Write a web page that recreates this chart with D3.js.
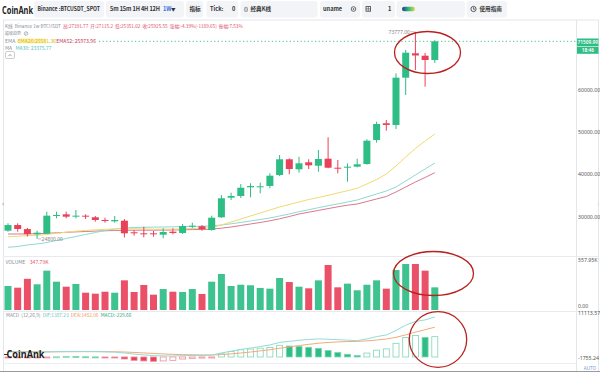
<!DOCTYPE html>
<html>
<head>
<meta charset="utf-8">
<script src="https://cdn.jsdelivr.net/npm/d3@7"></script>
<style>
body { margin: 0; background: #fff; }
svg { display: block; font-family: "Noto Sans", "Noto Sans CJK SC", sans-serif; }
text { white-space: pre; }
</style>
</head>
<body>
<svg width="600" height="374"></svg>
<script>
// weekly candles, Binance BTCUSDT
var weeks = ['2023-05-22', '2023-05-29', '2023-06-05', '2023-06-12', '2023-06-19', '2023-06-26', '2023-07-03', '2023-07-10', '2023-07-17', '2023-07-24',
	'2023-07-31', '2023-08-07', '2023-08-14', '2023-08-21', '2023-08-28', '2023-09-04', '2023-09-11', '2023-09-18', '2023-09-25', '2023-10-02',
	'2023-10-09', '2023-10-16', '2023-10-23', '2023-10-30', '2023-11-06', '2023-11-13', '2023-11-20', '2023-11-27', '2023-12-04', '2023-12-11',
	'2023-12-18', '2023-12-25', '2024-01-01', '2024-01-08', '2024-01-15', '2024-01-22', '2024-01-29', '2024-02-05', '2024-02-12', '2024-02-19',
	'2024-02-26', '2024-03-04', '2024-03-11', '2024-03-18', '2024-03-25'];

var open = [26740, 28080, 27115.2, 25890, 26030, 30210, 30610, 30150, 30290, 29910, 29270, 28960, 29100, 26360, 26120, 26120, 25790, 26500, 26200, 27780,
	27780, 26900, 29910, 34540, 34940, 37000, 37070, 37310, 39910, 43620, 41250, 42910, 42100, 43760, 41630, 41630, 41870, 42510, 48180, 52130,
	51730, 62910, 68680, 68110, 67090];
var high = [28490, 28490, 27391.77, 26740, 31230, 31230, 31230, 31630, 30610, 30210, 29810, 30210, 29500, 26900, 27680, 26670, 27310, 27310, 28320, 28630,
	28090, 30290, 35180, 35720, 37780, 37940, 38090, 40310, 44630, 43850, 44230, 43620, 45820, 48820, 43450, 42670, 43760, 48350, 52510, 52910,
	63950, 69460, 73777, 68750, 71770];
var low = [26500, 26500, 25351.02, 24800, 25960, 29670, 29670, 29670, 29500, 28870, 28630, 28630, 25180, 25560, 25180, 25320, 24950, 25890, 25960, 27310,
	26740, 26740, 29740, 34000, 34470, 34630, 35580, 36760, 39670, 40070, 40450, 41320, 40690, 41490, 40310, 38320, 41730, 42340, 47540, 50380,
	50780, 58820, 64730, 60780, 66380];
var close = [28080, 27140, 25925.55, 26270, 30290, 30450, 30050, 30290, 30050, 29270, 29030, 29270, 26120, 26120, 25890, 25890, 26430, 26200, 27850, 27920,
	27140, 29810, 34400, 34940, 36900, 37310, 37240, 39740, 43620, 41320, 42670, 42200, 43690, 41630, 41400, 41870, 42440, 48020, 51960, 51730,
	62910, 68820, 68160, 67090, 71509.99];

// volume in K
var volume = [268, 249, 347.79, 287, 439, 316, 260, 290, 193, 182, 204, 193, 331, 201, 279, 171, 234, 204, 201, 234,
	179, 316, 402, 268, 282, 276, 246, 238, 357, 312, 260, 242, 331, 502, 253, 294, 220, 282, 331, 238,
	446, 513, 513, 439, 253];

// moving averages
var ema26 = [25320, 25415, 25581.36, 25650, 25840, 26124, 26384, 26620, 26809, 26951, 27069, 27164, 27235, 27211, 27164, 27117, 27117, 27117, 27164, 27259,
	27306, 27495, 28086, 28795, 29504, 30214, 30923, 31632, 32341, 32932, 33523, 34114, 34587, 35107, 35651, 36195, 36762, 37778, 38842, 40142,
	42034, 44161, 46171, 47944, 49598];
var ema52 = [25958, 25960, 25973.96, 26029, 26124, 26242, 26360, 26455, 26549, 26644, 26715, 26786, 26833, 26857, 26857, 26857, 26880, 26904, 26951, 26999,
	27022, 27093, 27330, 27613, 27968, 28322, 28677, 29079, 29552, 30095, 30686, 31112, 31537, 31963, 32388, 32767, 33050, 33641, 34232, 34823,
	35887, 37069, 38251, 39315, 40450];
var ma30 = [22814, 23003, 23375.77, 23594, 23949, 24422, 24895, 25367, 25840, 26313, 26786, 27140, 27377, 27495, 27542, 27590, 27613, 27660, 27708, 27755,
	27802, 27850, 28086, 28370, 28677, 29032, 29386, 29741, 30214, 30686, 31230, 31703, 32176, 32649, 33050, 33523, 33996, 34705, 35414, 36124,
	37069, 38488, 39906, 41324, 42743];

// MACD (12,26,9)
var dif = [1440, 1410, 1387.23, 1344, 1391, 1479, 1524, 1539, 1517, 1500, 1427, 1352, 1108, 802, 579, 379, 291, 260, 369, 416,
	418, 505, 1118, 1606, 2106, 2481, 2912, 3343, 4049, 4330, 4649, 4862, 5012, 4937, 4818, 4662, 4537, 5025, 5663, 6119,
	7369, 8844, 9894, 10300, 11113.57];
var dea = [1510, 1500, 1482.06, 1454, 1441, 1449, 1464, 1479, 1487, 1490, 1477, 1452, 1383, 1267, 1129, 979, 841, 725, 654, 606,
	568, 555, 668, 856, 1106, 1381, 1687, 2018, 2424, 2805, 3174, 3512, 3812, 4037, 4193, 4287, 4337, 4475, 4713, 4994,
	5469, 6144, 6894, 7575, 8281];
var macdHist = [-140, -180, -229.66, -220, -100, 60, 120, 120, 60, 20, -100, -200, -550, -930, -1100, -1200, -1100, -930, -570, -380,
	-300, -100, 900, 1500, 2000, 2200, 2450, 2650, 3250, 3050, 2950, 2700, 2400, 1800, 1250, 750, 400, 1100, 1900, 2250,
	3800, 5400, 6000, 5450, 5650];

var priceTicks = [30000, 40000, 50000, 60000];
var volTicks = ['557.95K', '0.00'];
var macdTicks = ['11113.57', '-1755.24'];
var lastPrice = 71509.99, lastTime = '18:46';
var highMark = 73777, lowMark = 24800;

var svg = d3.select('svg'),
	width = +svg.attr('width'),
	height = +svg.attr('height');

var green = '#2ebd85', red = '#e8415a', grey = '#8a8f98', axisColor = '#555';

var candles = weeks.map(function(w, i) {
	return { week: w, o: open[i], h: high[i], l: low[i], c: close[i], v: volume[i], m: macdHist[i], i: i };
});

// scales
var x = d3.scalePoint().domain(weeks).range([8, 434.8]);
var bw = 7;
var y = d3.scaleLinear().domain([30000, 60000]).range([216.9, 90]);
var yVol = d3.scaleLinear().domain([0, 557.95]).range([310, 260]);
var yMacd = d3.scaleLinear().domain([-1755.24, 11113.57]).range([363.3, 317]);

// ---------- toolbar ----------
var tb = svg.append('g');
tb.append('text').attr('x', 2).attr('y', 13.5).attr('font-size', 10).attr('font-weight', 'bold')
	.attr('fill', '#222').attr('textLength', 31).attr('lengthAdjust', 'spacingAndGlyphs').text('CoinAnk');

[[34, 70], [106, 78], [186, 17], [206.5, 31.5], [240.5, 77], [320, 40], [362, 33], [396.5, 68.5], [466.5, 40.5]].forEach(function(b) {
	tb.append('rect').attr('x', b[0]).attr('y', 1).attr('width', b[1]).attr('height', 16.5).attr('rx', 3).attr('fill', '#f2f4f7');
});

function tbText(x0, s, opts) {
	return tb.append('text').attr('x', x0).attr('y', 11).attr('font-size', opts && opts.size || 5.6)
		.attr('font-family', '"Noto Sans CJK SC", "Noto Sans", sans-serif')
		.attr('font-weight', 600).attr('fill', '#333').text(s);
}
tbText(37.5, 'Binance :BTCUSDT_SPOT').attr('textLength', 62.5).attr('lengthAdjust', 'spacingAndGlyphs');
tbText(110, '5m 15m 1H 4H 12H').attr('textLength', 50);
tbText(163, '1W').attr('fill', '#3b6fe0');
tbText(171, '▼').attr('font-size', 4.5);
tbText(189.5, '指标');
tbText(210, 'Tick:');
tbText(232, '0');
tbText(244, '()').attr('font-size', 5);
tbText(250.5, '经典K线');
tbText(323, 'uname');
tb.append('circle').attr('cx', 353.5).attr('cy', 9).attr('r', 2.3).attr('fill', 'none').attr('stroke', '#444').attr('stroke-width', 0.8);
tb.append('circle').attr('cx', 353.5).attr('cy', 9).attr('r', 0.8).attr('fill', '#444');
tb.append('rect').attr('x', 366).attr('y', 6.6).attr('width', 4.6).attr('height', 4.6).attr('fill', 'none').attr('stroke', '#444').attr('stroke-width', 0.8);
tb.append('path').attr('d', 'M368.3,6.6V11.2M366,8.9H370.6').attr('stroke', '#444').attr('stroke-width', 0.6);
tbText(388, '1');
var grad = svg.append('defs').append('linearGradient').attr('id', 'pill');
grad.append('stop').attr('offset', '0%').attr('stop-color', '#1d3f8a');
grad.append('stop').attr('offset', '55%').attr('stop-color', '#34c07c');
grad.append('stop').attr('offset', '100%').attr('stop-color', '#e8d64a');
tb.append('rect').attr('x', 402).attr('y', 6.8).attr('width', 13).attr('height', 4.4).attr('rx', 2.2).attr('fill', 'url(#pill)');
tb.append('circle').attr('cx', 473.5).attr('cy', 9).attr('r', 2.6).attr('fill', 'none').attr('stroke', '#333').attr('stroke-width', 0.8);
tb.append('path').attr('d', 'M473.5,7.3V9.2H475').attr('fill', 'none').attr('stroke', '#333').attr('stroke-width', 0.7);
tbText(479.5, '使用指南');

// ---------- chart frame ----------
var frame = svg.append('g').attr('fill', 'none');
frame.append('line').attr('x1', 3).attr('x2', 599).attr('y1', 20).attr('y2', 20).attr('stroke', '#e3e6ea');
frame.append('line').attr('x1', 3.5).attr('x2', 3.5).attr('y1', 20).attr('y2', 371).attr('stroke', '#e3e6ea');
frame.append('line').attr('x1', 598.5).attr('x2', 598.5).attr('y1', 20).attr('y2', 371).attr('stroke', '#e3e6ea');
frame.append('line').attr('x1', 576.5).attr('x2', 576.5).attr('y1', 20).attr('y2', 371).attr('stroke', '#e3e6ea');
[256.5, 311.5].forEach(function(yy) {
	frame.append('line').attr('x1', 3).attr('x2', 599).attr('y1', yy).attr('y2', yy).attr('stroke', '#e8eaed');
});
frame.append('line').attr('x1', 3).attr('x2', 576).attr('y1', 363.5).attr('y2', 363.5).attr('stroke', '#eceef1');
frame.append('line').attr('x1', 0).attr('x2', 600).attr('y1', 371.5).attr('y2', 371.5).attr('stroke', '#9a9a9a');
svg.append('text').attr('x', 2).attr('y', 206).attr('font-size', 7).attr('fill', '#999').text('‹');
svg.append('text').attr('x', 597.5).attr('y', 206).attr('font-size', 6).attr('fill', '#bbb').text(':');

// ---------- price pane ----------
// moving average lines
var line = d3.line()
	.x(function(d) { return x(d[0]); })
	.y(function(d) { return y(d[1]); });
[[ema52, '#d9798f'], [ma30, '#8fd9d2'], [ema26, '#eedb72']].forEach(function(s) {
	svg.append('path')
		.datum(weeks.map(function(w, i) { return [w, s[0][i]]; }))
		.attr('d', line)
		.attr('fill', 'none')
		.attr('stroke', s[1])
		.attr('stroke-width', 1);
});

// candles
var cg = svg.append('g').selectAll('g').data(candles).enter().append('g')
	.attr('fill', function(d) { return d.c >= d.o ? green : red; })
	.attr('stroke', function(d) { return d.c >= d.o ? green : red; });
cg.append('line')
	.attr('x1', function(d) { return x(d.week); })
	.attr('x2', function(d) { return x(d.week); })
	.attr('y1', function(d) { return y(d.h); })
	.attr('y2', function(d) { return y(d.l); })
	.attr('stroke-width', 1);
cg.append('rect')
	.attr('x', function(d) { return x(d.week) - bw / 2; })
	.attr('y', function(d) { return y(Math.max(d.o, d.c)); })
	.attr('width', bw)
	.attr('height', function(d) { return Math.max(1, Math.abs(y(d.o) - y(d.c))); })
	.attr('stroke', 'none');

// high / low markers
var hi = candles[high.indexOf(highMark)], lo = candles[low.indexOf(lowMark)];
svg.append('line').attr('x1', x(hi.week) - 5).attr('x2', x(hi.week) - 1).attr('y1', y(highMark)).attr('y2', y(highMark)).attr('stroke', '#999').attr('stroke-width', 0.6);
svg.append('text').attr('x', x(hi.week) - 5.5).attr('y', y(highMark) + 1.8).attr('text-anchor', 'end')
	.attr('font-size', 5).attr('fill', '#888').text(d3.format('.2f')(highMark));
svg.append('line').attr('x1', x(lo.week) + 1).attr('x2', x(lo.week) + 4).attr('y1', y(lowMark)).attr('y2', y(lowMark)).attr('stroke', '#999').attr('stroke-width', 0.6);
svg.append('text').attr('x', x(lo.week) + 4.5).attr('y', y(lowMark) + 1.8)
	.attr('font-size', 5).attr('fill', '#888').text(d3.format('.2f')(lowMark));

// price axis
svg.append('g').selectAll('text').data(priceTicks).enter().append('text')
	.attr('x', 578).attr('y', function(d) { return y(d) + 1.8; })
	.attr('font-size', 5.2).attr('fill', axisColor)
	.text(function(d) { return d3.format('.2f')(d); });

// legend text: each coloured piece is its own text, laid out one after another,
// font shrunk so the whole row has the width seen in the picture
function legend(x0, y0, segs, len) {
	var g = svg.append('g');
	var parts = segs.map(function(s) {
		return g.append('text').attr('y', y0).attr('font-size', 5.2).attr('fill', s[1])
			.attr('font-family', '"Noto Sans CJK SC", "Noto Sans", sans-serif').text(s[0]);
	});
	var total = d3.sum(parts, function(t) { return t.node().getComputedTextLength(); });
	var fs = len ? 5.2 * len / total : 5.2;
	var cx = x0;
	parts.forEach(function(t) {
		t.attr('font-size', fs).attr('x', cx);
		cx += t.node().getComputedTextLength();
		t.text(t.text().replace(/\s+$/, ''));
	});
	return g;
}
var pr = '#e0536b';
legend(5, 27.6, [['K线  ', grey], ['Binance 1w BTCUSDT  ', grey], ['高:27391.77  ', pr], ['开:27115.2  ', pr], ['低:25351.02  ', pr],
	['收:25925.55  ', pr], ['涨幅:-4.39%(-1189.65)  ', pr], ['振幅:7.53%', pr]], 238);
legend(5, 35.3, [['超级趋势', grey]], 16);
svg.append('circle').attr('cx', 26).attr('cy', 33.5).attr('r', 1.8).attr('fill', 'none').attr('stroke', grey).attr('stroke-width', 0.6);
svg.append('line').attr('x1', 24.8).attr('x2', 27.2).attr('y1', 34.7).attr('y2', 32.3).attr('stroke', grey).attr('stroke-width', 0.6);

// last price dotted line, starts after the EMA legend
var yl = y(lastPrice);
svg.append('line').attr('x1', 99).attr('x2', 576).attr('y1', yl).attr('y2', yl)
	.attr('stroke', green).attr('stroke-width', 0.9).attr('stroke-dasharray', '1.2,2.4');
svg.append('rect').attr('x', 19).attr('y', 38.4).attr('width', 27).attr('height', 5).attr('fill', '#fbf3b4');
legend(5, 42.6, [['EMA  ', grey], ['EMA26:25581.36', '#e0b400'], ['EMA52: 25973.96', '#c8375a']], 91);
legend(5, 50.3, [['MA   ', grey], ['MA30: 23375.77', '#4fc3b9']], 46.5);
svg.append('rect').attr('x', 5.5).attr('y', 51.5).attr('width', 9).attr('height', 7).attr('rx', 1.5)
	.attr('fill', '#fff').attr('stroke', '#aaa').attr('stroke-width', 0.6);
svg.append('path').attr('d', 'M8.3,56.2L10,54.4L11.7,56.2').attr('fill', 'none').attr('stroke', '#666').attr('stroke-width', 0.6);

// last price tag on the axis
svg.append('rect').attr('x', 577).attr('y', 38.5).attr('width', 21.5).attr('height', 7.5).attr('fill', green);
svg.append('rect').attr('x', 577).attr('y', 46.6).attr('width', 21.5).attr('height', 7.2).attr('fill', green);
svg.append('text').attr('x', 587.8).attr('y', 44).attr('text-anchor', 'middle').attr('font-size', 4.8)
	.attr('fill', '#fff').attr('font-weight', 600).text(d3.format('.2f')(lastPrice));
svg.append('text').attr('x', 587.8).attr('y', 52).attr('text-anchor', 'middle').attr('font-size', 4.8)
	.attr('fill', '#fff').attr('font-weight', 600).text(lastTime);

// ---------- volume pane ----------
svg.append('g').selectAll('rect').data(candles).enter().append('rect')
	.attr('x', function(d) { return x(d.week) - bw / 2; })
	.attr('y', function(d) { return yVol(d.v); })
	.attr('width', bw)
	.attr('height', function(d) { return yVol(0) - yVol(d.v); })
	.attr('fill', function(d) { return d.c >= d.o ? green : red; })
	.attr('fill-opacity', 0.92);
legend(5.5, 263.6, [['VOLUME    ', grey], ['347.79K', pr]], 43);
svg.append('text').attr('x', 578).attr('y', 261.5).attr('font-size', 5.2).attr('fill', axisColor).text(volTicks[0]);
svg.append('text').attr('x', 578).attr('y', 307.8).attr('font-size', 5.2).attr('fill', axisColor).text(volTicks[1]);

// ---------- MACD pane ----------
svg.append('g').selectAll('rect').data(candles).enter().append('rect')
	.attr('x', function(d) { return x(d.week) - bw / 2 + 0.5; })
	.attr('y', function(d) { return Math.min(yMacd(d.m), yMacd(0)); })
	.attr('width', bw - 1)
	.attr('height', function(d) { return Math.max(1, Math.abs(yMacd(d.m) - yMacd(0))); })
	.attr('fill', function(d, i) {
		var prev = i > 0 ? macdHist[i - 1] : d.m;
		var col = d.m >= 0 ? green : red;
		// hollow when the bar grows up (green) or shrinks back (red)
		if (d.m > prev) return '#fff';
		return col;
	})
	.attr('stroke', function(d) { return d.m >= 0 ? '#7fd6b4' : '#f08b9b'; })
	.attr('stroke-width', 0.8);

var mline = d3.line()
	.x(function(d) { return x(d[0]); })
	.y(function(d) { return yMacd(d[1]); });
[[dea, '#f2ab7a'], [dif, '#93dcd4']].forEach(function(s) {
	svg.append('path')
		.datum(weeks.map(function(w, i) { return [w, s[0][i]]; }))
		.attr('d', mline)
		.attr('fill', 'none')
		.attr('stroke', s[1])
		.attr('stroke-width', 1);
});
legend(6, 317.2, [['MACD  (12,26,9)  ', grey], ['DIF:1387.23  ', '#5cc8bf'], ['DEA:1482.06  ', '#ee9a5e'], ['MACD:-229.66', '#2aa87a']], 125.5);
svg.append('text').attr('x', 578).attr('y', 314.5).attr('font-size', 5.2).attr('fill', axisColor).text(macdTicks[0]);
svg.append('text').attr('x', 578).attr('y', 360).attr('font-size', 5.2).attr('fill', axisColor).text(macdTicks[1]);
svg.append('text').attr('x', 590).attr('y', 369.6).attr('text-anchor', 'middle').attr('font-size', 4.6).attr('fill', '#7c9bd6').text('AUTO');

// watermark
svg.append('line').attr('x1', 4).attr('x2', 8).attr('y1', 354.5).attr('y2', 354.5).attr('stroke', '#333').attr('stroke-width', 1);
svg.append('text').attr('x', 6.5).attr('y', 358.3).attr('font-size', 11).attr('font-weight', 'bold')
	.attr('fill', '#1d1d1d').attr('textLength', 38).attr('lengthAdjust', 'spacingAndGlyphs').text('CoinAnk');

// ---------- red annotation circles ----------
[[427.5, 52.5, 33, 21], [433.5, 273.5, 40, 22], [438, 339.5, 28.7, 27.8]].forEach(function(e) {
	svg.append('ellipse').attr('cx', e[0]).attr('cy', e[1]).attr('rx', e[2]).attr('ry', e[3])
		.attr('fill', 'none').attr('stroke', '#b8221e').attr('stroke-width', 1.3);
});
</script>
</body>
</html>
